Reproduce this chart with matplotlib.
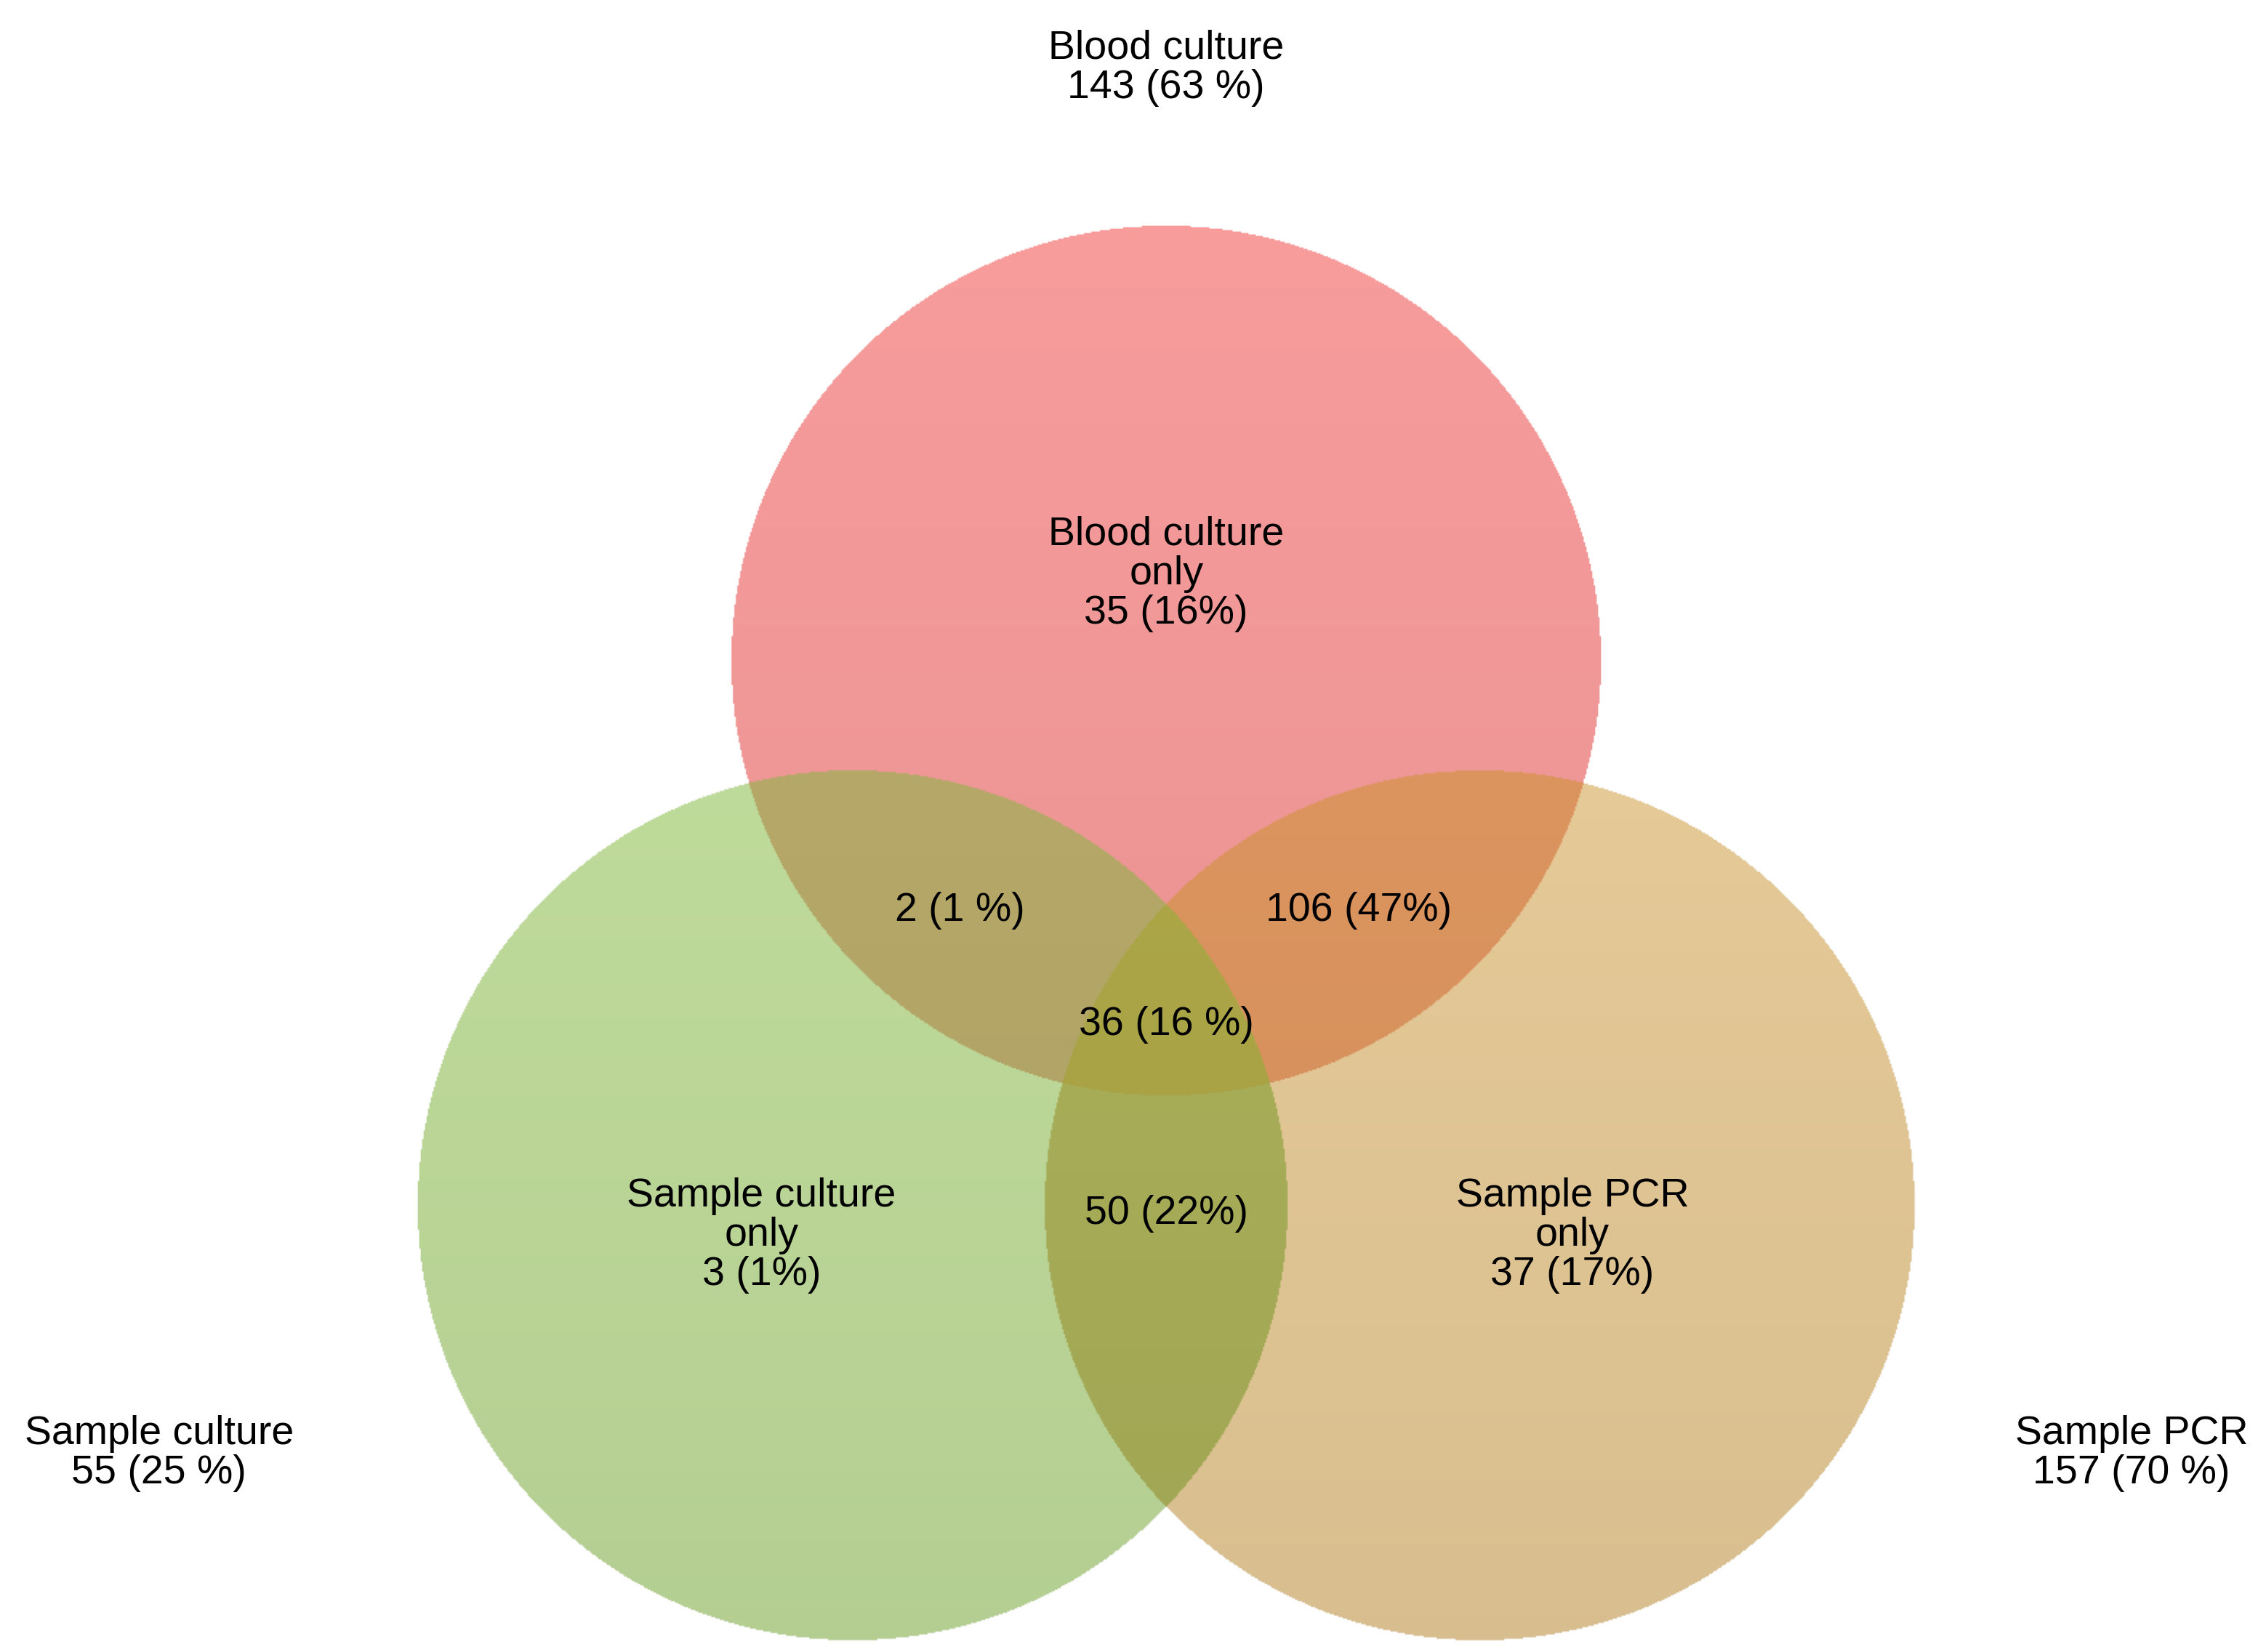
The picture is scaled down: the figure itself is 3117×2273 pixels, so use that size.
import numpy as np
import matplotlib.pyplot as plt
from matplotlib.colors import to_rgb

plt.rcParams['font.family'] = ['Liberation Sans', 'DejaVu Sans']

# sets and region labels
set_names = ["Blood culture", "Sample culture", "Sample PCR"]
set_totals = ["143 (63 %)", "55 (25 %)", "157 (70 %)"]
region_labels = {
    "R": "Blood culture\nonly\n35 (16%)",
    "G": "Sample culture\nonly\n3 (1%)",
    "O": "Sample PCR\nonly\n37 (17%)",
    "RG": "2 (1 %)",
    "RO": "106 (47%)",
    "GO": "50 (22%)",
    "RGO": "36 (16 %)",
}
region_colors = {
    "R": "#f89c9c", "G": "#c6e3a0", "O": "#eed19d",
    "RG": "#bcae6c", "RO": "#e49a62", "GO": "#b0b65c", "RGO": "#b3ad4a",
}

W, H = 1568, 1135
centers = {"R": (807, 453), "G": (590, 830), "O": (1024, 830)}
radius = 301

fig = plt.figure(figsize=(15.585, 11.365), dpi=200)
ax = fig.add_axes([0, 0, 1, 1])
ax.set_xlim(0, W)
ax.set_ylim(H, 0)
ax.axis("off")

yy, xx = np.mgrid[0:H, 0:W] + 0.5
inside = {k: (xx - c[0]) ** 2 + (yy - c[1]) ** 2 <= radius ** 2 for k, c in centers.items()}
img = np.ones((H, W, 4))
img[..., 3] = 0
for key, col in region_colors.items():
    mask = np.ones((H, W), bool)
    for k in "RGO":
        mask &= inside[k] if k in key else ~inside[k]
    img[mask, :3] = to_rgb(col)
    img[mask, 3] = 1
# slight vertical darkening like the original gradient
shade = 1 - 0.09 * np.clip((yy - 150) / 980, 0, 1)
img[..., :3] *= shade[..., None]
ax.imshow(img, extent=(0, W, H, 0), interpolation="bilinear", zorder=1)

fs = 20
pos = {"R": (807, 393), "G": (527, 851), "O": (1088, 851),
       "RG": (664, 626), "RO": (940, 626), "GO": (807, 836), "RGO": (807, 705)}
for key, txt in region_labels.items():
    ax.text(*pos[key], txt, ha="center", va="center", fontsize=fs,
            linespacing=1.05, zorder=3)

outer = [(807, 43), (110, 1002), (1475, 1002)]
for name, tot, p in zip(set_names, set_totals, outer):
    ax.text(*p, f"{name}\n{tot}", ha="center", va="center", fontsize=fs,
            linespacing=1.05, zorder=3)

fig.savefig("out.png", dpi=200)
